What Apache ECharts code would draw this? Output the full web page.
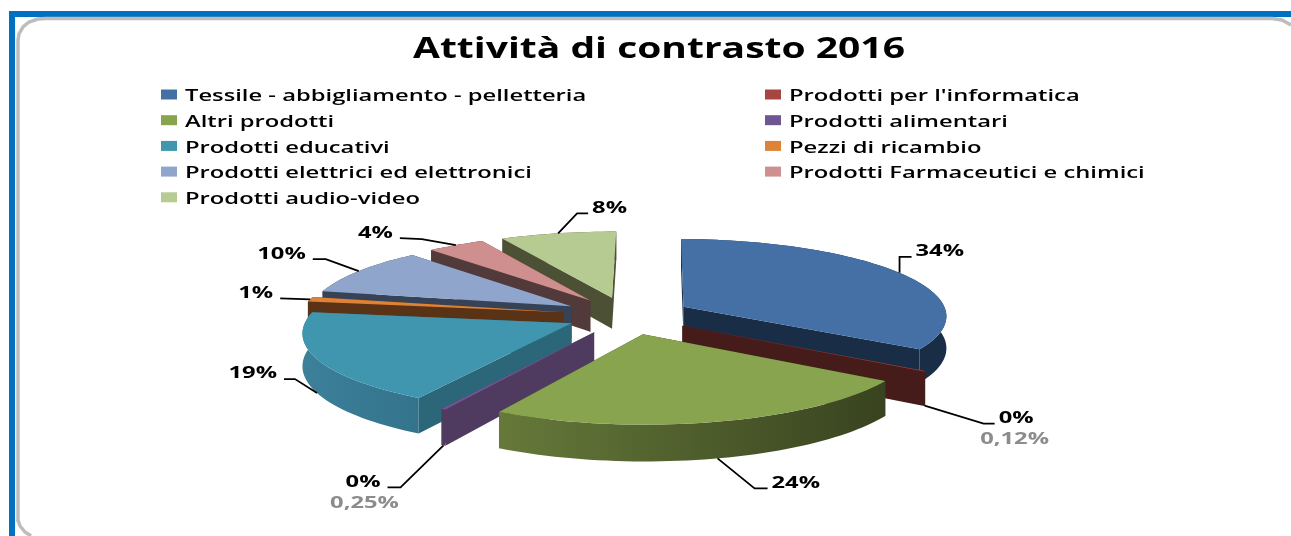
<!DOCTYPE html>
<html lang="it">

<head>
    <meta charset="UTF-8">
    <title>Attività di contrasto 2016</title>
    <script src="https://cdn.jsdelivr.net/npm/echarts@6/dist/echarts.min.js"></script>
    <style>
        html, body { margin: 0; padding: 0; background: #fff; }
        #chart { width: 1291px; height: 536px; }
    </style>
</head>

<body>
    <div id="chart"></div>
    <script>
        // dati
        var titleText = 'Attività di contrasto 2016';
        var categories = [
            'Tessile - abbigliamento - pelletteria', "Prodotti per l'informatica",
            'Altri prodotti', 'Prodotti alimentari',
            'Prodotti educativi', 'Pezzi di ricambio',
            'Prodotti elettrici ed elettronici', 'Prodotti Farmaceutici e chimici',
            'Prodotti audio-video'
        ];
        var values = [34, 0.12, 24, 0.25, 19, 1, 10, 4, 8];

        // colori: faccia superiore, pareti radiali, parete esterna
        var topColors = ['#4470a6', '#a84542', '#88a44e', '#6f5692', '#3f96ae', '#de8237', '#8fa5cc', '#cf8f8e', '#b6cb91'];
        var sideColors = ['#1a2d47', '#461c1a', '#3a4520', '#503b60', '#2c6679', '#5a3216', '#364256', '#52393a', '#4c5136'];
        var rimColors = [
            ['#1a2d47', '#1a2d47'], ['#461c1a', '#461c1a'], ['#66793a', '#38431f'], ['#503b60', '#503b60'],
            ['#3c8099', '#34738c'], ['#5a3216', '#5a3216'], ['#364256', '#364256'], ['#52393a', '#52393a'], ['#4c5136', '#4c5136']
        ];
        // ordine di disegno, dal fondo verso l'osservatore
        var drawOrder = [8, 7, 6, 5, 4, 3, 0, 1, 2];
        // distanza di ogni fetta dal centro
        var explodeBy = [65, 65, 65, 65, 61, 65, 65, 65, 65];
        // gomito e fine delle linee guida, relativi al bordo della fetta
        var leaders = [
            [[0, -16], [12, -16]], [[59, 18], [70, 18]], [[37, 30], [50, 30]],
            [[-43, 42], [-56, 42]], [[-22, -14], [-33, -14]], [[-30, -1], [-30, -1]],
            [[-33, -12], [-46, -12]], [[-34, -6], [-56, -7]], [[19, -20], [30, -20]]
        ];

        // geometria della torta 3D
        var cx = 627, cy = 315.5, radius = 264, tilt = 0.29, persp = 0.0004, depth = 32, rotation = 0.012;
        // il grafico originale e' stirato in orizzontale: il testo viene allargato allo stesso modo
        var legendFont = '600 16.5px "Open Sans"', legendStretch = 1.44;
        var labelFont = 'bold 15.5px "Open Sans"', labelStretch = 1.53;
        var total = values.reduce(function (a, b) { return a + b; }, 0);

        function project(x, y, low) {
            var k = 1 / (1 - persp * y);
            return [cx + x * k, cy + y * tilt * k + (low ? depth * k : 0)];
        }

        function sliceAngles(i) {
            var before = values.slice(0, i).reduce(function (a, b) { return a + b; }, 0);
            return [before / total * Math.PI * 2 + rotation, (before + values[i]) / total * Math.PI * 2 + rotation];
        }

        function renderSlice(params, api) {
            var i = params.seriesIndex;
            var ang = sliceAngles(i);
            var mid = (ang[0] + ang[1]) / 2;
            var ex = explodeBy[i] * Math.sin(mid), ey = -explodeBy[i] * Math.cos(mid);
            var rim = function (a, low) {
                return project(ex + radius * Math.sin(a), ey - radius * Math.cos(a), low);
            };
            var z = drawOrder.indexOf(i) * 10;
            var steps = Math.max(2, Math.ceil((ang[1] - ang[0]) / 0.03));
            var arcTop = [], arcLow = [];
            for (var s = 0; s <= steps; s++) {
                var a = ang[0] + (ang[1] - ang[0]) * s / steps;
                arcTop.push(rim(a, false));
                arcLow.push(rim(a, true));
            }
            var apexTop = project(ex, ey, false), apexLow = project(ex, ey, true);
            var poly = function (points, fill, zz) {
                return { type: 'polygon', z2: z + zz, shape: { points: points }, style: { fill: fill } };
            };
            var children = [
                poly([apexTop, arcTop[0], arcLow[0], apexLow], sideColors[i], 0),
                poly([apexTop, arcTop[steps], arcLow[steps], apexLow], sideColors[i], 0),
                poly(arcTop.concat(arcLow.slice().reverse()), new echarts.graphic.LinearGradient(0, 0, 1, 0, [
                    { offset: 0, color: rimColors[i][0] }, { offset: 1, color: rimColors[i][1] }
                ]), 1),
                poly([apexTop].concat(arcTop), topColors[i], 2)
            ];

            // linea guida ed etichetta
            var start = rim(mid, Math.cos(mid) < 0);
            var elbow = [start[0] + leaders[i][0][0], start[1] + leaders[i][0][1]];
            var end = [start[0] + leaders[i][1][0], start[1] + leaders[i][1][1]];
            var toLeft = end[0] < start[0];
            children.push({
                type: 'polyline', z2: 200,
                shape: { points: [start, elbow, end] },
                style: { stroke: '#000', lineWidth: 1.8, fill: null }
            });
            var lx = end[0] + (toLeft ? -7 : 4), ly = end[1] - 5;
            children.push({
                type: 'text', z2: 201, x: lx, y: ly, scaleX: labelStretch,
                style: {
                    text: Math.round(values[i]) + '%', align: toLeft ? 'right' : 'left', verticalAlign: 'middle',
                    font: labelFont, fill: '#000'
                }
            });
            // le fette sotto lo 0,5% riportano anche il valore esatto, in grigio
            if (values[i] < 0.5) {
                children.push({
                    type: 'text', z2: 201, x: lx + (toLeft ? -16 : 16), y: ly + 21, scaleX: labelStretch,
                    style: {
                        text: String(values[i]).replace('.', ',') + '%', align: 'center', verticalAlign: 'middle',
                        font: labelFont, fill: '#8c8c8c'
                    }
                });
            }
            return { type: 'group', children: children };
        }

        // cornice, titolo e legenda (due colonne)
        var graphics = [
            { type: 'rect', shape: { x: 9, y: 11, width: 1282, height: 6 }, style: { fill: '#0070c0' } },
            { type: 'rect', shape: { x: 9, y: 11, width: 6, height: 525 }, style: { fill: '#0070c0' } },
            { type: 'polyline', shape: { points: [[18, 522], [18, 40], [19, 34], [23, 27], [29, 22], [38, 19], [46, 18.5], [1272, 18.5], [1282, 20], [1291, 25]] }, style: { stroke: '#bdbdbd', lineWidth: 3.5, fill: null } },
            { type: 'polyline', shape: { points: [[18, 520], [20, 526], [25, 532], [31, 536]] }, style: { stroke: '#bdbdbd', lineWidth: 3.5, fill: null } },
            {
                type: 'text', x: 659, y: 50, scaleX: 1.393,
                style: { text: titleText, align: 'center', verticalAlign: 'middle', font: 'bold 28px "Open Sans"', fill: '#000' }
            }
        ];
        categories.forEach(function (name, i) {
            var col = i % 2, row = Math.floor(i / 2);
            var swatchX = col ? 765 : 161, rowY = 94.5 + row * 25.7;
            graphics.push({ type: 'rect', shape: { x: swatchX, y: rowY - 5, width: 16, height: 10 }, style: { fill: topColors[i] } });
            graphics.push({
                type: 'text', x: swatchX + 24, y: rowY + 2, scaleX: legendStretch,
                style: { text: name, align: 'left', verticalAlign: 'middle', font: legendFont, fill: '#000' }
            });
        });

        var chart = echarts.init(document.getElementById('chart'));
        chart.setOption({
            animation: false,
            backgroundColor: '#fff',
            graphic: graphics,
            series: categories.map(function (name, i) {
                return {
                    type: 'custom', name: name, coordinateSystem: 'none', silent: true,
                    itemStyle: { color: topColors[i] },
                    data: [values[i]],
                    renderItem: renderSlice
                };
            })
        });
    </script>
</body>

</html>
